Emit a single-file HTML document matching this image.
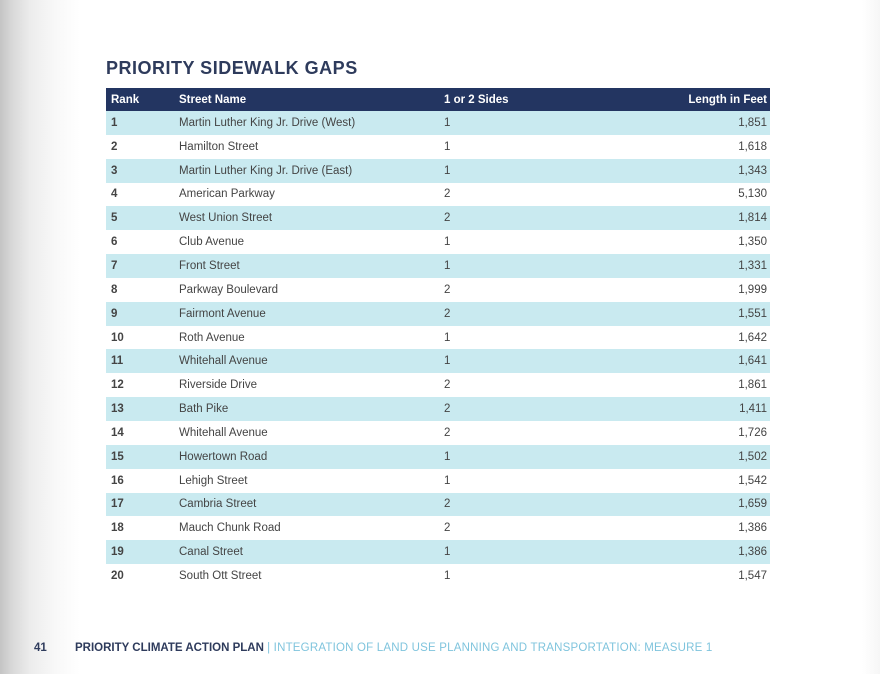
<!DOCTYPE html>
<html><head><meta charset="utf-8"><style>
body{margin:0;width:880px;height:674px;overflow:hidden;font-family:"Liberation Sans",sans-serif;background:#fff;position:relative}
.shade{position:absolute;left:0;top:0;width:80px;height:674px;background:linear-gradient(to right,#c4c4c4 0px,#d8d8d8 12px,#ececec 30px,#f8f8f8 55px,#fff 80px)}
.rshade{position:absolute;left:862px;top:0;width:18px;height:674px;background:linear-gradient(to right,#fff,#f6f6f6)}
h1{position:absolute;left:106px;top:58px;margin:0;font-size:18px;font-weight:bold;color:#2e3b5c;letter-spacing:0.5px}
table{position:absolute;left:106px;top:88px;width:664px;border-collapse:collapse;font-size:11.5px;color:#444}
th{background:#233561;color:#fff;height:23px;text-align:left;font-weight:bold;padding:0;font-size:11.5px}
td{height:23.85px;padding:0}
tr.a td{background:#c9eaf0}
td.r,th.r{text-align:right;padding-right:3px}
td:first-child,th:first-child{padding-left:5px;width:68px}
td:first-child{font-weight:bold;color:#444}
td:nth-child(2){width:265px}
.foot{position:absolute;left:34px;top:642px;font-size:11.5px;font-weight:bold;color:#2e3b5c;white-space:nowrap}
.foot .n{display:inline-block;width:41px}
.foot .c{color:#7fc4dd;font-weight:normal;letter-spacing:0.2px}
</style></head><body>
<div class="shade"></div><div class="rshade"></div>
<h1>PRIORITY SIDEWALK GAPS</h1>
<table>
<tr><th>Rank</th><th>Street Name</th><th>1 or 2 Sides</th><th class="r">Length in Feet</th></tr>
<tr class="a"><td>1</td><td>Martin Luther King Jr. Drive (West)</td><td>1</td><td class="r">1,851</td></tr>
<tr><td>2</td><td>Hamilton Street</td><td>1</td><td class="r">1,618</td></tr>
<tr class="a"><td>3</td><td>Martin Luther King Jr. Drive (East)</td><td>1</td><td class="r">1,343</td></tr>
<tr><td>4</td><td>American Parkway</td><td>2</td><td class="r">5,130</td></tr>
<tr class="a"><td>5</td><td>West Union Street</td><td>2</td><td class="r">1,814</td></tr>
<tr><td>6</td><td>Club Avenue</td><td>1</td><td class="r">1,350</td></tr>
<tr class="a"><td>7</td><td>Front Street</td><td>1</td><td class="r">1,331</td></tr>
<tr><td>8</td><td>Parkway Boulevard</td><td>2</td><td class="r">1,999</td></tr>
<tr class="a"><td>9</td><td>Fairmont Avenue</td><td>2</td><td class="r">1,551</td></tr>
<tr><td>10</td><td>Roth Avenue</td><td>1</td><td class="r">1,642</td></tr>
<tr class="a"><td>11</td><td>Whitehall Avenue</td><td>1</td><td class="r">1,641</td></tr>
<tr><td>12</td><td>Riverside Drive</td><td>2</td><td class="r">1,861</td></tr>
<tr class="a"><td>13</td><td>Bath Pike</td><td>2</td><td class="r">1,411</td></tr>
<tr><td>14</td><td>Whitehall Avenue</td><td>2</td><td class="r">1,726</td></tr>
<tr class="a"><td>15</td><td>Howertown Road</td><td>1</td><td class="r">1,502</td></tr>
<tr><td>16</td><td>Lehigh Street</td><td>1</td><td class="r">1,542</td></tr>
<tr class="a"><td>17</td><td>Cambria Street</td><td>2</td><td class="r">1,659</td></tr>
<tr><td>18</td><td>Mauch Chunk Road</td><td>2</td><td class="r">1,386</td></tr>
<tr class="a"><td>19</td><td>Canal Street</td><td>1</td><td class="r">1,386</td></tr>
<tr><td>20</td><td>South Ott Street</td><td>1</td><td class="r">1,547</td></tr>
</table>
<div class="foot"><span class="n">41</span>PRIORITY CLIMATE ACTION PLAN <span class="c">| INTEGRATION OF LAND USE PLANNING AND TRANSPORTATION: MEASURE 1</span></div>
</body></html>
